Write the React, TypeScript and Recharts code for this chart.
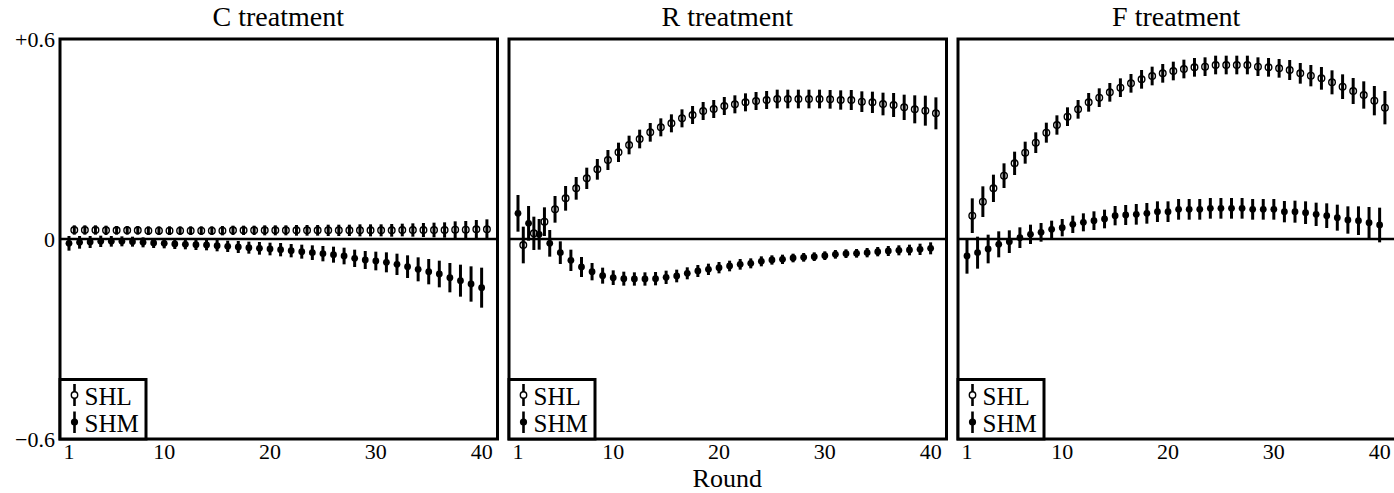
import React from "react";
import {
  ScatterChart,
  Scatter,
  XAxis,
  YAxis,
  ErrorBar,
  ReferenceLine,
  ReferenceArea,
} from "recharts";

const ROUNDS = [
  1, 2, 3, 4, 5, 6, 7, 8, 9, 10, 11, 12, 13, 14, 15, 16, 17, 18, 19, 20,
  21, 22, 23, 24, 25, 26, 27, 28, 29, 30, 31, 32, 33, 34, 35, 36, 37, 38, 39, 40,
];
const X_TICKS = [1, 10, 20, 30, 40];
const Y_TICKS = [-0.6, 0, 0.6];
const TITLES = ["C treatment", "R treatment", "F treatment"];
const SERIES_NAMES = ["SHL", "SHM"];

// C treatment
const C_SHL = [
  0.027, 0.027, 0.027, 0.026, 0.026, 0.026, 0.026, 0.025, 0.025, 0.025,
  0.025, 0.025, 0.025, 0.025, 0.025, 0.026, 0.026, 0.026, 0.026, 0.026,
  0.026, 0.026, 0.026, 0.026, 0.026, 0.026, 0.026, 0.026, 0.026, 0.026,
  0.026, 0.027, 0.027, 0.027, 0.027, 0.027, 0.028, 0.028, 0.029, 0.029,
];
const C_SHL_ERR = [
  0.014, 0.014, 0.014, 0.014, 0.013, 0.013, 0.013, 0.013, 0.013, 0.013,
  0.013, 0.013, 0.013, 0.013, 0.014, 0.014, 0.014, 0.014, 0.015, 0.015,
  0.015, 0.016, 0.016, 0.016, 0.017, 0.017, 0.017, 0.018, 0.018, 0.018,
  0.019, 0.019, 0.02, 0.021, 0.022, 0.023, 0.025, 0.026, 0.028, 0.03,
];
const C_SHM = [
  -0.013, -0.01, -0.009, -0.007, -0.007, -0.007, -0.008, -0.01, -0.012, -0.013,
  -0.015, -0.016, -0.017, -0.018, -0.02, -0.022, -0.024, -0.026, -0.028, -0.03,
  -0.032, -0.035, -0.038, -0.041, -0.044, -0.047, -0.051, -0.058, -0.063, -0.066,
  -0.07, -0.076, -0.083, -0.091, -0.098, -0.105, -0.116, -0.125, -0.135, -0.146,
];
const C_SHM_ERR = [
  0.022, 0.019, 0.018, 0.017, 0.016, 0.015, 0.015, 0.015, 0.015, 0.015,
  0.015, 0.015, 0.016, 0.016, 0.017, 0.017, 0.018, 0.018, 0.019, 0.019,
  0.02, 0.02, 0.021, 0.022, 0.023, 0.024, 0.025, 0.026, 0.027, 0.028,
  0.03, 0.032, 0.034, 0.036, 0.038, 0.04, 0.044, 0.048, 0.053, 0.06,
];

// R treatment
const R_SHL = [
  -0.018, 0.017, 0.052, 0.089, 0.122, 0.152, 0.182, 0.209, 0.237, 0.26,
  0.282, 0.3, 0.32, 0.335, 0.347, 0.362, 0.372, 0.384, 0.39, 0.399,
  0.404, 0.41, 0.414, 0.417, 0.42, 0.42, 0.42, 0.42, 0.42, 0.419,
  0.417, 0.417, 0.412, 0.41, 0.405, 0.402, 0.395, 0.389, 0.385, 0.377,
];
const R_SHL_ERR = [
  0.055, 0.05, 0.043, 0.04, 0.037, 0.034, 0.032, 0.031, 0.03, 0.029,
  0.028, 0.028, 0.028, 0.027, 0.027, 0.027, 0.027, 0.027, 0.027, 0.027,
  0.027, 0.027, 0.027, 0.027, 0.028, 0.028, 0.028, 0.028, 0.028, 0.028,
  0.029, 0.03, 0.031, 0.032, 0.034, 0.036, 0.038, 0.042, 0.045, 0.048,
];
const R_SHM = [
  0.077, 0.047, 0.014, -0.013, -0.041, -0.064, -0.084, -0.098, -0.11, -0.116,
  -0.119, -0.12, -0.12, -0.119, -0.115, -0.111, -0.103, -0.096, -0.091, -0.086,
  -0.081, -0.076, -0.073, -0.067, -0.063, -0.061, -0.057, -0.055, -0.053, -0.05,
  -0.046, -0.044, -0.043, -0.041, -0.038, -0.036, -0.034, -0.033, -0.031, -0.028,
];
const R_SHM_ERR = [
  0.055, 0.052, 0.046, 0.04, 0.034, 0.032, 0.03, 0.026, 0.024, 0.022,
  0.021, 0.02, 0.02, 0.02, 0.02, 0.019, 0.018, 0.018, 0.017, 0.017,
  0.016, 0.016, 0.015, 0.015, 0.014, 0.014, 0.013, 0.013, 0.013, 0.013,
  0.013, 0.013, 0.013, 0.014, 0.014, 0.015, 0.015, 0.016, 0.017, 0.018,
];

// F treatment
const F_SHL = [
  0.07, 0.112, 0.152, 0.19, 0.227, 0.259, 0.289, 0.319, 0.342, 0.367,
  0.389, 0.41, 0.424, 0.44, 0.454, 0.467, 0.479, 0.489, 0.497, 0.504,
  0.51, 0.515, 0.517, 0.522, 0.522, 0.522, 0.522, 0.517, 0.515, 0.512,
  0.507, 0.497, 0.49, 0.482, 0.47, 0.457, 0.444, 0.432, 0.415, 0.394,
];
const F_SHL_ERR = [
  0.052, 0.046, 0.041, 0.037, 0.035, 0.033, 0.031, 0.03, 0.029, 0.028,
  0.028, 0.028, 0.028, 0.028, 0.028, 0.028, 0.028, 0.028, 0.028, 0.028,
  0.028, 0.028, 0.028, 0.028, 0.028, 0.028, 0.028, 0.028, 0.028, 0.028,
  0.03, 0.031, 0.032, 0.034, 0.036, 0.037, 0.039, 0.041, 0.044, 0.05,
];
const F_SHM = [
  -0.051, -0.041, -0.03, -0.016, -0.008, 0.004, 0.014, 0.02, 0.029, 0.034,
  0.044, 0.05, 0.055, 0.06, 0.07, 0.072, 0.074, 0.077, 0.082, 0.082,
  0.089, 0.089, 0.089, 0.092, 0.092, 0.092, 0.092, 0.089, 0.089, 0.089,
  0.082, 0.082, 0.079, 0.074, 0.07, 0.064, 0.057, 0.055, 0.049, 0.042,
];
const F_SHM_ERR = [
  0.053, 0.048, 0.043, 0.039, 0.034, 0.031, 0.029, 0.028, 0.026, 0.026,
  0.026, 0.027, 0.028, 0.028, 0.029, 0.03, 0.031, 0.031, 0.031, 0.031,
  0.031, 0.031, 0.031, 0.031, 0.031, 0.031, 0.031, 0.031, 0.031, 0.031,
  0.032, 0.033, 0.034, 0.035, 0.037, 0.039, 0.041, 0.043, 0.047, 0.052,
];

const FONT = '"Liberation Serif", "Times New Roman", serif';
const W = 1394;
const H = 493;
const PLOT_LEFT = [59.5, 508.5, 957.5];
const PLOT_W = 437.5;
const PLOT_TOP = 39;
const PLOT_H = 400;
const AXIS_W = 60;
const XAXIS_H = 30;
const X_DOMAIN: [number, number] = [0.15, 41.5];
const Y_DOMAIN: [number, number] = [-0.6, 0.6];
const SHL_SHIFT = 0.5; // SHL drawn half a round to the right of SHM

const toRows = (vals: number[], errs: number[], shift: number) =>
  ROUNDS.map((r, i) => ({ x: r + shift, y: vals[i], err: errs[i] }));

const PANELS = [
  { shl: toRows(C_SHL, C_SHL_ERR, SHL_SHIFT), shm: toRows(C_SHM, C_SHM_ERR, 0) },
  { shl: toRows(R_SHL, R_SHL_ERR, SHL_SHIFT), shm: toRows(R_SHM, R_SHM_ERR, 0) },
  { shl: toRows(F_SHL, F_SHL_ERR, SHL_SHIFT), shm: toRows(F_SHM, F_SHM_ERR, 0) },
];

const OpenDot = (p: any) => (
  <circle cx={p.cx} cy={p.cy} r={3.3} fill="none" stroke="#000" strokeWidth={1.4} />
);
const FilledDot = (p: any) => <circle cx={p.cx} cy={p.cy} r={3.4} fill="#000" />;

const fmtY = (v: number) =>
  v > 0 ? `+${v}` : v < 0 ? `\u2212${Math.abs(v)}` : "0";

const tickStyle = { fill: "#000", fontSize: 22, fontFamily: FONT };

const Panel = ({ index }: { index: number }) => {
  const first = index === 0;
  const rightPad = index === 2 ? 0 : 10;
  const width = AXIS_W + PLOT_W + rightPad;
  const { shl, shm } = PANELS[index];
  return (
    <div style={{ position: "absolute", left: PLOT_LEFT[index] - AXIS_W, top: 0 }}>
      <ScatterChart
        width={width}
        height={H}
        margin={{
          top: PLOT_TOP,
          right: rightPad,
          bottom: H - PLOT_TOP - PLOT_H - XAXIS_H,
          left: first ? 0 : AXIS_W,
        }}
      >
        <XAxis
          type="number"
          dataKey="x"
          domain={X_DOMAIN}
          ticks={X_TICKS}
          interval={0}
          allowDataOverflow
          tickLine={false}
          axisLine={false}
          tickSize={0}
          tickMargin={4}
          height={XAXIS_H}
          tick={tickStyle}
        />
        <YAxis
          type="number"
          dataKey="y"
          domain={Y_DOMAIN}
          ticks={Y_TICKS}
          interval={0}
          allowDataOverflow
          hide={!first}
          width={AXIS_W}
          tickLine={false}
          axisLine={false}
          tickSize={0}
          tickMargin={5}
          tickFormatter={fmtY}
          tick={tickStyle}
        />
        <ReferenceLine y={0} stroke="#000" strokeWidth={2.5} />
        <ReferenceArea
          x1={X_DOMAIN[0]}
          x2={X_DOMAIN[1]}
          y1={Y_DOMAIN[0]}
          y2={Y_DOMAIN[1]}
          fill="none"
          fillOpacity={0}
          stroke="#000"
          strokeWidth={3}
        />
        <Scatter name="SHL" data={shl} shape={OpenDot} isAnimationActive={false}>
          <ErrorBar
            dataKey="err"
            direction="y"
            width={0}
            stroke="#000"
            strokeWidth={3}
            isAnimationActive={false}
          />
        </Scatter>
        <Scatter name="SHM" data={shm} shape={FilledDot} isAnimationActive={false}>
          <ErrorBar
            dataKey="err"
            direction="y"
            width={0}
            stroke="#000"
            strokeWidth={3}
            isAnimationActive={false}
          />
        </Scatter>
      </ScatterChart>
    </div>
  );
};

// legend box sitting in the lower-left corner of each panel
const LegendBox = ({ left }: { left: number }) => (
  <svg
    width={92}
    height={64}
    style={{ position: "absolute", left: left - 2, top: 377 }}
  >
    <rect x={2} y={2.5} width={86} height={59.5} fill="#fff" stroke="#000" strokeWidth={3} />
    <line x1={16.5} x2={16.5} y1={7} y2={29} stroke="#000" strokeWidth={2.6} />
    <circle cx={16.5} cy={18} r={3.2} fill="#fff" stroke="#000" strokeWidth={1.4} />
    <line x1={16.5} x2={16.5} y1={34.5} y2={56} stroke="#000" strokeWidth={2.6} />
    <circle cx={16.5} cy={45} r={3.6} fill="#000" />
    <text x={26.5} y={28} fontSize={25} fontFamily={FONT} fill="#000">
      {SERIES_NAMES[0]}
    </text>
    <text x={26.5} y={54.7} fontSize={25} fontFamily={FONT} fill="#000">
      {SERIES_NAMES[1]}
    </text>
  </svg>
);

export default function App() {
  return (
    <div
      style={{
        position: "fixed",
        left: 0,
        top: 0,
        width: W,
        height: H,
        overflow: "hidden",
        background: "#fff",
      }}
    >
      {[0, 1, 2].map((i) => (
        <Panel key={i} index={i} />
      ))}
      {PLOT_LEFT.map((l, i) => (
        <LegendBox key={i} left={l} />
      ))}
      <svg
        width={W}
        height={H}
        style={{ position: "absolute", left: 0, top: 0, pointerEvents: "none" }}
      >
        {TITLES.map((t, i) => (
          <text
            key={t}
            x={PLOT_LEFT[i] + PLOT_W / 2}
            y={25.5}
            textAnchor="middle"
            fontSize={28}
            fontFamily={FONT}
            fill="#000"
          >
            {t}
          </text>
        ))}
        <text
          x={PLOT_LEFT[1] + PLOT_W / 2}
          y={487}
          textAnchor="middle"
          fontSize={26}
          fontFamily={FONT}
          fill="#000"
        >
          Round
        </text>
      </svg>
    </div>
  );
}
